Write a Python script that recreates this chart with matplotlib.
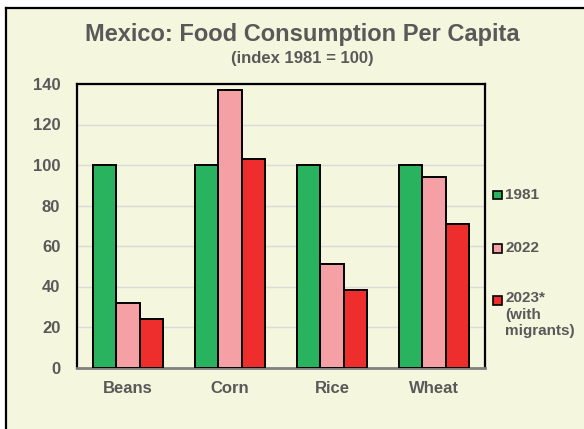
import numpy as np
import matplotlib.pyplot as plt
from matplotlib.patches import Rectangle
from matplotlib.lines import Line2D

plt.rcParams['font.family'] = ['Liberation Sans', 'DejaVu Sans']

foods = ['Beans', 'Corn', 'Rice', 'Wheat']
idx_1981 = [100, 100, 100, 100]
idx_2022 = [32, 137, 51, 94]
idx_2023 = [24, 103, 38.5, 71]
series_names = ['1981', '2022', '2023*\n(with\nmigrants)']

bg = '#F4F6DE'
txt = '#595959'
colors = ['#2AB35E', '#F4A0A4', '#EE2D2D']

W, H = 584, 429
fig = plt.figure(figsize=(W / 100, H / 100), dpi=100)
fig.patch.set_facecolor('white')

# cream panel running off the right and bottom edges, black border on left and top
fig.add_artist(Rectangle((5.5 / W, -0.1), 1.2, 1.1 - 7.5 / H, transform=fig.transFigure,
                         facecolor=bg, edgecolor='none', linewidth=0, zorder=-2))
fig.add_artist(Line2D([5.5 / W, 5.5 / W], [-0.1, 1 - 7.5 / H], transform=fig.transFigure,
                      color='black', linewidth=1.6))
fig.add_artist(Line2D([5.5 / W, 1.1], [1 - 7.5 / H, 1 - 7.5 / H], transform=fig.transFigure,
                      color='black', linewidth=1.6))

ax = fig.add_axes([77 / W, 1 - 367.5 / H, (485 - 77) / W, (367.5 - 84) / H])
ax.set_facecolor(bg)

x = np.arange(len(foods))
w = 0.226
for i, (vals, c) in enumerate(zip([idx_1981, idx_2022, idx_2023], colors)):
    ax.bar(x + (i - 1) * w, vals, width=w, color=c, edgecolor='black',
           linewidth=1.4, zorder=3)

ax.set_xlim(-0.5, 3.5)
ax.set_ylim(0, 140)
ax.set_yticks(range(0, 141, 20))
ax.set_xticks(x)
ax.set_xticklabels(foods)
ax.yaxis.grid(True, color='#DADADA', linewidth=1, zorder=0)
ax.tick_params(length=0, labelsize=12, labelcolor=txt)
ax.tick_params(axis='y', pad=12)
ax.tick_params(axis='x', pad=10)
for lab in ax.get_xticklabels() + ax.get_yticklabels():
    lab.set_fontweight('bold')

for side in ['left', 'top', 'right']:
    ax.spines[side].set_color('black')
    ax.spines[side].set_linewidth(1.6)
ax.spines['bottom'].set_color('#808080')
ax.spines['bottom'].set_linewidth(2)

fig.text(302 / W, 1 - 35 / H, 'Mexico: Food Consumption Per Capita',
         ha='center', va='center', fontsize=17, fontweight='bold', color=txt)
fig.text(302.5 / W, 1 - 59 / H, '(index 1981 = 100)',
         ha='center', va='center', fontsize=12, fontweight='bold', color=txt)

# legend drawn by hand to the right of the plot
leg_y = [195, 248, 300]
for name, c, yy in zip(series_names, colors, leg_y):
    fig.add_artist(Rectangle((493 / W, 1 - (yy + 4.5) / H), 9 / W, 9 / H,
                             transform=fig.transFigure, facecolor=c,
                             edgecolor='black', linewidth=1.2))
    if '\n' in name:
        fig.text(505 / W, 1 - (yy - 8.5) / H, name, ha='left', va='top',
                 fontsize=11, fontweight='bold', color=txt, linespacing=1.22)
    else:
        fig.text(505 / W, 1 - yy / H, name, ha='left', va='center',
                 fontsize=11, fontweight='bold', color=txt)

fig.savefig('out.png', dpi=100, facecolor=fig.get_facecolor())
